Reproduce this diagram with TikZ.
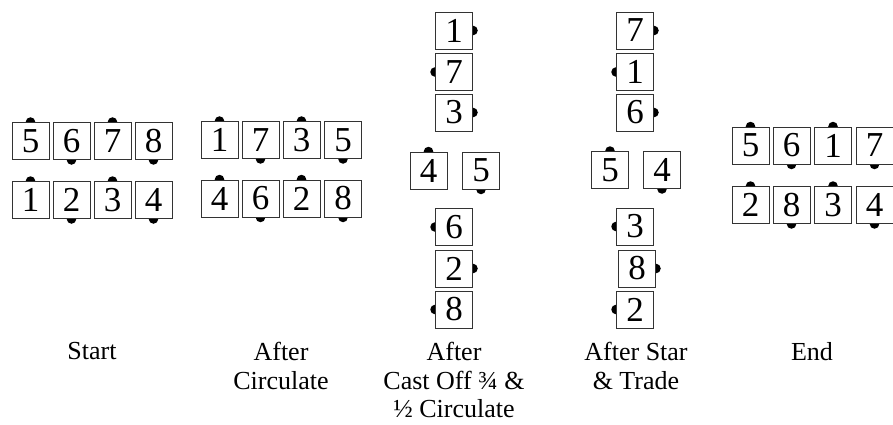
\documentclass[tikz,border=0pt]{standalone}
\usepackage{fontspec}
\newfontfamily\digitfont{Liberation Serif}
\newfontfamily\labelfont{Liberation Serif}
\usetikzlibrary{backgrounds}

\tikzset{
  dancer/.style={draw=black!80, line width=0.9pt, fill=white, minimum width=37pt,
    minimum height=37pt, inner sep=0pt, font=\digitfont\fontsize{35}{35}\selectfont},
  nose/.style={fill=black},
  caption/.style={align=center, anchor=north, inner sep=0pt,
    font=\labelfont\fontsize{26}{28.5}\selectfont}
}

\begin{document}
\begin{tikzpicture}[x=1pt,y=-1pt]
    \useasboundingbox (0,0) rectangle (893,425);

    % dancers: name/x/y/number/nose side
    \foreach \n/\x/\y/\d/\s in {
        s5/30.5/141/5/north, s6/71.5/141/6/south, s7/112.5/141/7/north, s8/153.5/141/8/south,
        s1/30.5/200/1/north, s2/71.5/200/2/south, s3/112.5/200/3/north, s4/153.5/200/4/south,
        c1/219.5/140/1/north, c7/260.5/140/7/south, c3/301.5/140/3/north, c5/343/140/5/south,
        c4/219.5/198.5/4/north, c6/260.5/198.5/6/south, c2/301.5/198.5/2/north, c8/343/198.5/8/south,
        o1/454/30.5/1/east, o7/454/72/7/west, o3/454/112.5/3/east,
        o4/428.5/170.5/4/north, o5/481/170.5/5/south,
        o6/454/227/6/west, o2/454/268.5/2/east, o8/454/309.5/8/west,
        t7/635/30.5/7/east, t1/635/72/1/west, t6/635/112.5/6/east,
        t5/610/170/5/north, t4/662/170/4/south,
        t3/635/226.5/3/west, t8/637/268.5/8/east, t2/635/309.5/2/west,
        e5/750.5/145.5/5/north, e6/791.5/145.5/6/south, e1/833/145.5/1/north, e7/874.5/145.5/7/south,
        e2/750.5/205/2/north, e8/791.5/205/8/south, e3/833/205/3/north, e4/874.5/205/4/south} {
      \node[dancer] (\n) at (\x,\y) {\d};
      \begin{scope}[on background layer]
        \fill[nose] (\n.\s) circle (4.8);
      \end{scope}
    }

    % captions
    \node[caption] (start) at (92,342) {Start};
    \node[caption] (circ) at (281,342) {After\\Circulate};
    \node[caption] (cast) at (454,342) {After\\Cast Off ¾ \&\\½ Circulate};
    \node[caption] (star) at (636,342) {After Star\\\& Trade};
    \node[caption] (end) at (812,342) {End};

  \end{tikzpicture}
\end{document}
